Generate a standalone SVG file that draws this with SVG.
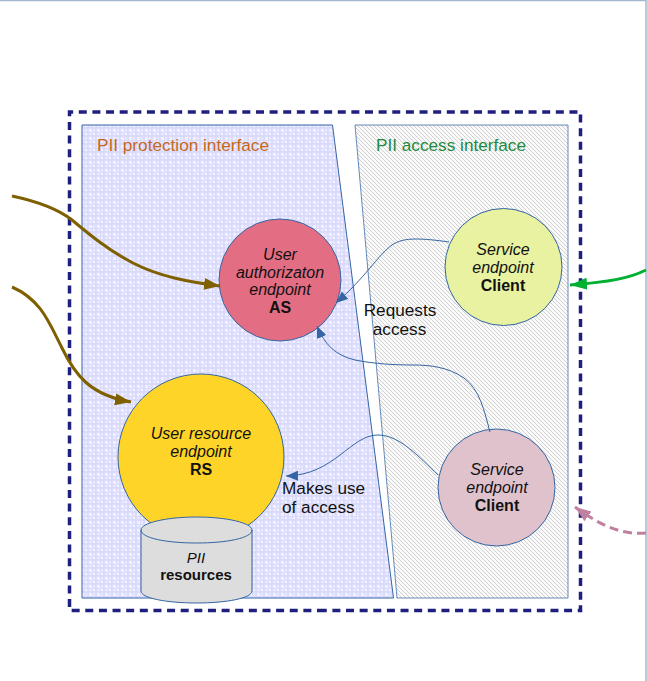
<svg xmlns="http://www.w3.org/2000/svg" width="647" height="681" viewBox="0 0 647 681">
<style>
text{font-family:"Liberation Sans",Arial,sans-serif;font-size:16px;fill:#111;text-anchor:middle}
.i{font-style:italic}.b{font-weight:bold}
.t{font-size:17.2px}
.n{stroke:#3465a4;stroke-width:1}
.lk{fill:none;stroke:#3465a4;stroke-width:1}
.br{fill:none;stroke:#7f6000;stroke-width:3}
.l{text-anchor:start}
</style>
<defs>
<pattern id="grid" width="8" height="8" patternUnits="userSpaceOnUse"><rect width="8" height="8" fill="#dadafb"/><rect x="1" y="1" width="3" height="3" fill="#f0f0ff"/><rect x="5" y="1" width="2" height="3" fill="#e8e8fe"/><rect x="1" y="5" width="3" height="2" fill="#e8e8fe"/><rect x="5" y="5" width="2" height="2" fill="#f4f4ff"/></pattern>
<pattern id="hatch" width="4" height="4" patternUnits="userSpaceOnUse"><rect width="4" height="4" fill="#fafafa"/><path d="M-1 3L1 5M0 0L4 4M3 -1L5 1" stroke="#d0d0d0" stroke-width="1"/></pattern>
<marker id="ab" markerUnits="userSpaceOnUse" markerWidth="14" markerHeight="12" refX="12" refY="5" orient="auto"><path d="M0 0L12 5L0 10Z" fill="#3465a4"/></marker>
<marker id="abr" markerUnits="userSpaceOnUse" markerWidth="18" markerHeight="13" refX="16" refY="6" orient="auto"><path d="M0 0L16 6L0 12Z" fill="#7f6000"/></marker>
<marker id="ag" markerUnits="userSpaceOnUse" markerWidth="18" markerHeight="13" refX="17" refY="6" orient="auto"><path d="M0 0L17 6L0 12Z" fill="#00b030"/></marker>
<marker id="ap" markerUnits="userSpaceOnUse" markerWidth="18" markerHeight="14" refX="16" refY="6" orient="auto"><path d="M0 0L16 6L0 12Z" fill="#c080a0"/></marker>
</defs>
<g id="frame" fill="none" stroke="#a5b7d3" stroke-width="1.500"><path d="M0 0.500H646V681"/></g>
<g id="boundary"><path d="M325 610.500H69.500V112H580.500V610.500Z" fill="none" stroke="#1f1f7f" stroke-width="3.500" stroke-dasharray="8 5.630"/></g>
<g id="protection-interface"><path class="n" d="M82 125H332.500L393.500 598H82Z" fill="url(#grid)"/><text class="l t" x="97" y="151" style="fill:#c5681c">PII protection interface</text></g>
<g id="access-interface"><path class="n" d="M355 125H568V598H397Z" fill="url(#hatch)" stroke-opacity=".75"/><text class="l t" x="376" y="151" style="fill:#1e8a3c">PII access interface</text></g>
<g id="as"><circle class="n" cx="280" cy="280" r="61" fill="#e36d83"/><text class="i" x="280" y="260">User</text><text class="i" x="280" y="278">authorizaton</text><text class="i" x="280" y="295">endpoint</text><text class="b" x="280" y="313">AS</text></g>
<g id="client1"><circle class="n" cx="503.500" cy="267" r="58.500" fill="#e8f2a1"/><text class="i" x="503" y="255">Service</text><text class="i" x="503" y="273">endpoint</text><text class="b" x="503" y="291">Client</text></g>
<g id="client2"><circle class="n" cx="496.500" cy="487.500" r="58.500" fill="#e0c2cd"/><text class="i" x="497" y="475">Service</text><text class="i" x="497" y="493">endpoint</text><text class="b" x="497" y="511">Client</text></g>
<g id="rs"><circle class="n" cx="201" cy="457" r="83" fill="#ffd428"/><text class="i" x="201" y="439">User resource</text><text class="i" x="201" y="457">endpoint</text><text class="b" x="201" y="475">RS</text></g>
<g id="pii"><path class="n" d="M141 530C141 523 166 517 196.500 517S252 523 252 530V591C252 598 227 603 196.500 603S141 598 141 591Z" fill="#dddddd"/><path class="n" d="M141 530C141 538 166 543 196.500 543S252 538 252 530" fill="none"/><text class="i" x="196" y="563" style="font-size:15px">PII</text><text class="b" x="196" y="580" style="font-size:15px">resources</text></g>
<g id="connectors">
<path class="lk" marker-end="url(#ab)" d="M449 242C435 240 425 239 416 239C405 239 398 241 392 245C378 255 365 278 336 303"/>
<path class="lk" marker-end="url(#ab)" d="M490 432C484 410 480 390 464 378C448 367 430 365 413 365C395 365 375 364 355 360C335 355 325 345 317 326"/>
<path class="lk" marker-end="url(#ab)" d="M438 475C420 458 400 435 378 435C350 435 335 475 286 476"/>
<path class="br" marker-end="url(#abr)" d="M12 196C40 202 58 209 72 220C90 235 108 250 133 263C160 277 190 282 220 286"/>
<path class="br" marker-end="url(#abr)" d="M12 287C42 300 50 325 62 348C75 375 90 395 131 402"/>
<path d="M646 270C630 278 610 282 570 285" fill="none" stroke="#00b030" stroke-width="3" marker-end="url(#ag)"/>
<path d="M646 533C620 535 600 525 575 507" fill="none" stroke="#c080a0" stroke-width="3" stroke-dasharray="9 5" marker-end="url(#ap)"/>
</g>
<g id="labels"><text class="t" x="400" y="316">Requests</text><text class="t" x="399.500" y="335">access</text><text class="l t" x="282" y="494">Makes use</text><text class="l t" x="282" y="513">of access</text></g>
</svg>
